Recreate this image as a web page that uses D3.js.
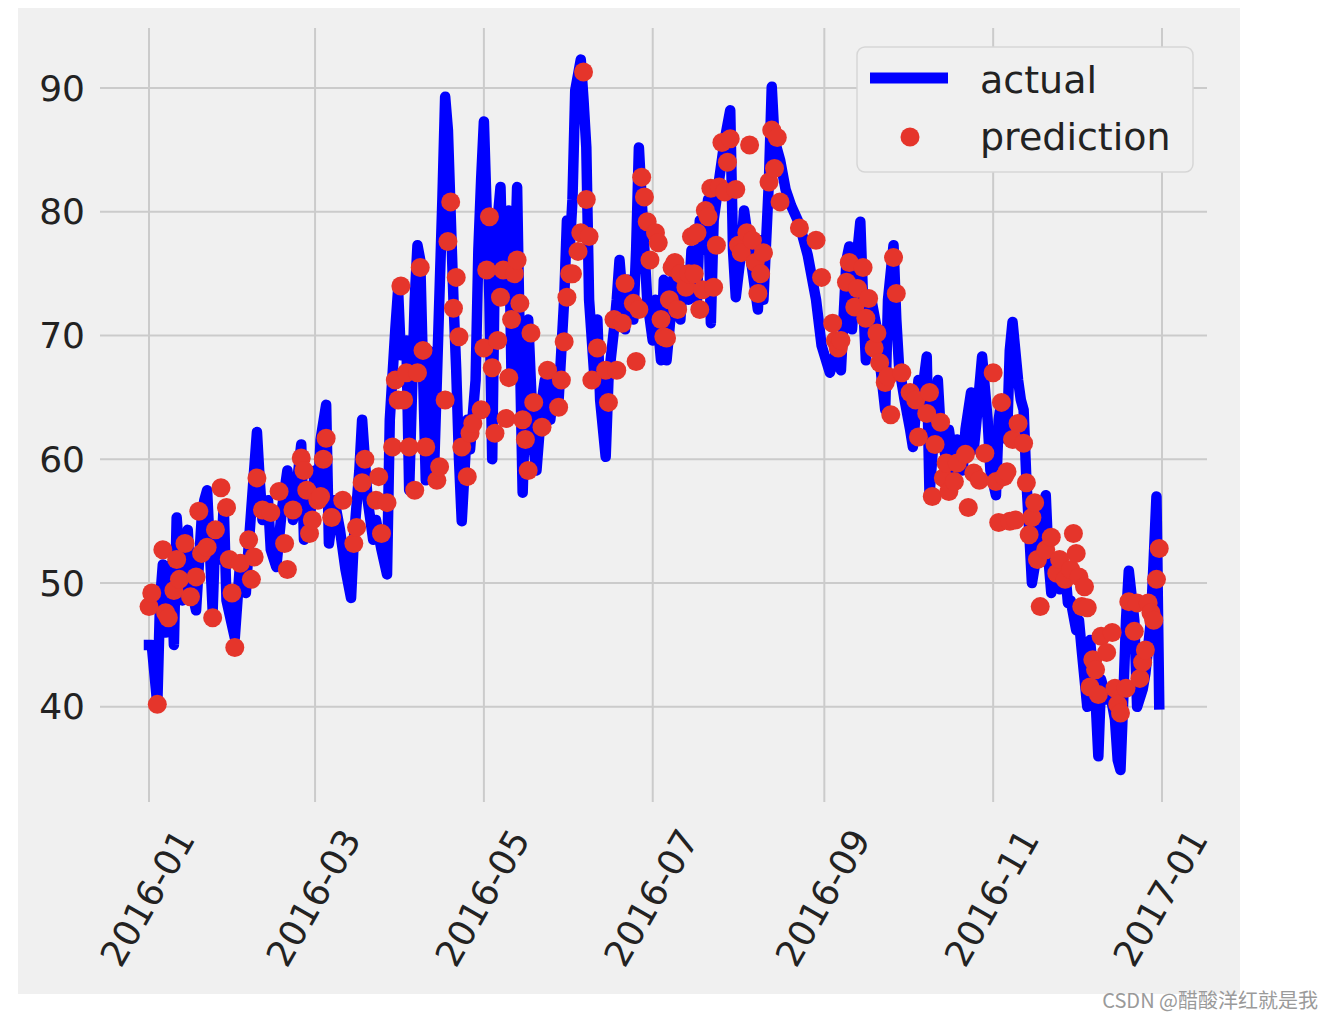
<!DOCTYPE html>
<html><head><meta charset="utf-8">
<script src="https://cdn.jsdelivr.net/npm/d3@7"></script>
<style>body{margin:0;background:#fff;} svg{display:block;}</style>
</head><body>
<svg id="chart" width="1334" height="1018"></svg>
<script>
// ---- data (day offset from 2016-01-01, temperature) ----
const actualDays = [0,1,3,4,5,6,8,9,10,12,14,15,17,19,20,21,23,24,26,27,28,31,33,35,36,39,40,41,43,44,46,48,50,52,55,56,58,60,61,62,64,65,67,69,71,73,74,76,77,79,81,82,84,86,87,89,90,91,93,94,96,97,98,100,101,103,104,106,107,108,110,111,112,113,115,116,118,119,120,121,123,124,125,127,128,130,131,133,134,135,136,137,139,140,142,143,145,147,148,150,151,152,153,154,156,157,158,159,161,162,163,165,166,168,169,170,172,173,175,176,177,178,180,182,183,185,186,187,189,190,192,193,195,196,198,199,200,202,203,204,206,208,210,211,212,214,215,216,218,220,221,222,224,225,226,228,230,232,235,238,241,243,246,248,250,252,253,254,256,257,258,259,261,263,264,266,267,269,270,271,273,275,276,278,279,281,282,284,285,286,288,289,291,292,294,295,297,298,299,301,303,304,306,307,308,310,311,312,314,315,316,317,318,319,321,322,324,325,326,328,329,331,332,333,335,336,337,339,340,342,343,344,346,347,349,350,351,352,353,354,356,357,359,360,362,363,364,365];
const actualTemps = [45,45,40.2,48.6,51.5,46,51.5,45,55.3,48.6,54.3,49.9,47.8,55.1,56.7,57.5,47.8,54.3,51.9,56.3,48.6,45.6,51.9,49.2,53,62.2,58.3,55.1,56.7,52.7,51.3,55.9,59.1,55.1,61.2,53.5,55.1,59.1,56.7,61.6,64.4,53.2,56.7,54.3,51.1,48.8,53.5,59.1,63.2,56.7,53.5,55.1,52.7,50.7,63.2,70.5,73.7,68.4,69.6,57.5,72.9,77.3,76.1,58.3,68.8,59.1,66.4,81,89.3,86.6,72.9,67.2,60,55,63.2,60.8,66.4,76.9,82.6,87.3,72.9,60,76.9,82,72.9,80.1,66.4,82,68.8,57.3,64.8,71.3,60.8,59.1,64.8,66.4,63.2,67.2,64.8,72.9,79.3,76.9,81,89.8,92.3,89,85.2,72.9,66.4,71.3,64.8,60.2,66.4,70.5,72.9,76.1,70.5,74.5,71.3,76.9,85.2,81,72.9,69.6,72.9,68,74.5,68,72.9,76.1,71.3,75.3,72.9,76.9,72.9,79.3,76.9,81,71,79.3,82.6,85.8,88.2,76.9,73.1,76.9,80.1,78.5,75.3,72.1,77.7,72.9,82.6,90.1,85.8,84.2,81.8,80.5,79,76.5,72.9,69.2,67,68.5,67.2,76.1,77.2,70.5,76.9,79.2,72.9,68,72.9,70.5,68,64,72.9,77.3,71.3,67.5,64.8,62.4,61,66.4,64.8,68.3,57.1,63.2,66.4,62.4,60,62.4,59.1,61.6,59.1,62.4,65.4,60.8,63.2,68.3,63.2,59.1,57.1,63.2,64.8,61.6,68.8,71.1,66.4,64.8,64,58.3,54.3,50,52.7,55.1,57.1,51.9,49.2,51.9,49.5,51.1,48.4,48.6,46.2,47,44.6,40,45.4,40.6,36,42.2,40.6,41.4,39,35.7,34.9,40.6,47,51,47,40,41.4,42.7,47,51.9,57,40.2];

const predDays = [0,1,3,5,6,7,9,10,11,13,15,17,18,19,21,23,24,26,28,29,30,31,33,36,37,38,39,41,44,47,49,50,52,55,56,57,58,59,61,62,63,64,66,70,74,75,77,78,82,83,84,86,88,89,90,91,92,93,94,96,97,98,99,100,104,105,107,108,109,110,111,112,113,115,116,117,120,121,122,123,124,125,126,127,128,129,130,131,132,133,134,135,136,137,138,139,142,144,148,149,150,151,152,153,155,156,157,158,159,160,162,165,166,168,169,171,172,175,176,177,178,179,180,181,183,184,185,186,187,188,189,190,191,192,194,195,196,197,198,199,200,201,202,203,204,205,206,207,208,209,210,212,213,214,216,217,218,219,220,221,222,224,225,226,227,228,235,241,243,247,248,249,250,252,253,255,256,258,259,260,262,263,264,266,267,268,269,270,272,275,277,278,281,282,283,284,286,287,288,289,291,292,295,296,298,300,302,305,306,307,308,309,310,311,312,313,314,316,317,318,319,320,321,322,324,326,328,329,331,333,334,335,336,337,338,339,340,341,342,343,344,346,348,349,350,351,353,354,356,357,358,359,360,361,362,363,364,365];
const predTemps = [48.1,49.2,40.2,52.7,47.6,47.2,49.4,51.9,50.3,53.2,48.9,50.5,55.8,52.4,52.9,47.2,54.3,57.7,56.1,51.9,49.2,44.8,51.6,53.5,50.3,52.1,58.5,55.9,55.7,57.4,53.2,51.1,55.9,60.1,59.1,57.5,54,55.1,56.7,57,60,61.7,55.3,56.7,53.2,54.5,58.1,60,56.7,58.6,54,56.5,61,66.4,64.8,74,64.8,67,61,57.5,67,75.5,68.8,61,58.3,59.4,64.8,77.6,80.8,72.2,74.7,69.9,61,58.6,62.1,62.9,64,69,75.3,79.6,67.4,62.1,69.6,73.1,75.3,63.3,66.6,71.3,75,76.1,72.6,63.2,61.6,59.1,70.2,64.6,62.6,67.2,64.2,66.4,69.5,73.1,75,75,76.8,78.3,91.3,81,78,66.4,69,67.2,64.6,71.3,67.2,71,74.2,72.6,67.9,72.1,82.8,81.2,79.2,76.1,78.3,77.5,71.3,69.9,69.8,72.9,75.5,75.9,72.1,75,73.9,75,78,75,78.3,72.1,73.7,80.1,79.6,81.9,73.9,77.3,82,85.6,81.6,84,85.9,81.8,77.3,76.7,78.3,85.4,77.7,75.9,73.4,75,76.7,82.4,86.6,83.5,86,80.8,78.7,77.7,74.7,71,69.6,69,69.6,74.3,75.9,72.3,73.8,75.5,71.4,73,69,70.2,67.8,66.2,66.7,63.6,76.3,73.4,67,65.4,64.8,61.8,63.7,65.4,57,61.2,63,58.5,59.7,57.4,58.2,59.7,60.4,56.1,58.9,58.3,60.5,67,58.2,54.9,64.6,58.6,59,55,61.6,55.1,62.9,61.3,58.1,53.9,55.3,56.5,51.9,48.1,52.7,53.7,50.8,51.9,50.3,51.1,54,52.4,50.5,48.1,49.7,48,41.6,43.8,43,41,45.7,44.4,46,41.5,40.2,39.5,41.5,48.5,46.1,48.4,42.3,43.6,44.6,48.4,47.6,47,50.3,52.8];

const xTickLabels = ["2016-01","2016-03","2016-05","2016-07","2016-09","2016-11","2017-01"];
const yTickValues = [40,50,60,70,80,90];
const seriesNames = ["actual","prediction"];

// ---- layout ----
const svg = d3.select("#chart");
const FONT = "DejaVu Sans, sans-serif";
const start = new Date(Date.UTC(2016,0,1));
const toDate = d => d3.utcDay.offset(start, d);

const axL = 100, axR = 1207, axT = 28, axB = 802;
const x = d3.scaleUtc().domain([start, new Date(Date.UTC(2017,0,1))]).range([149, 1162]);
const y = d3.scaleLinear().domain([32.15, 94.85]).range([804, 28]);

svg.append("rect").attr("x",18).attr("y",8).attr("width",1222).attr("height",986).attr("fill","#f0f0f0");

const parseM = d3.utcParse("%Y-%m");
const xTicks = xTickLabels.map(parseM);

// grid
const g = svg.append("g");
g.selectAll("line.h").data(yTickValues).join("line").attr("class","h")
  .attr("x1",axL).attr("x2",axR).attr("y1",d=>y(d)).attr("y2",d=>y(d))
  .attr("stroke","#cbcbcb").attr("stroke-width",2);
g.selectAll("line.v").data(xTicks).join("line").attr("class","v")
  .attr("x1",d=>x(d)).attr("x2",d=>x(d)).attr("y1",axT).attr("y2",axB)
  .attr("stroke","#cbcbcb").attr("stroke-width",2);

// y tick labels
svg.append("g").selectAll("text").data(yTickValues).join("text")
  .attr("x",85).attr("y",d=>y(d)).attr("text-anchor","end").attr("dominant-baseline","central")
  .attr("font-family",FONT).attr("font-size",36).attr("fill","#222").text(d=>d);

// x tick labels rotated
svg.append("g").selectAll("text").data(xTicks).join("text")
  .attr("transform",(d)=>`translate(${x(d)+47},839) rotate(-60)`)
  .attr("text-anchor","end")
  .attr("font-family",FONT).attr("font-size",36).attr("fill","#222")
  .text((d,i)=>xTickLabels[i]);

// actual line
const actual = actualDays.map((d,i)=>({date:toDate(d), v:actualTemps[i]}));
const line = d3.line().x(d=>x(d.date)).y(d=>y(d.v));
svg.append("path").datum(actual).attr("d",line)
  .attr("fill","none").attr("stroke","#0000ff").attr("stroke-width",10.5)
  .attr("stroke-linejoin","round").attr("stroke-linecap","square");

// predictions
const preds = predDays.map((d,i)=>({date:toDate(d), v:predTemps[i]}));
svg.append("g").selectAll("circle").data(preds).join("circle")
  .attr("cx",d=>x(d.date)).attr("cy",d=>y(d.v)).attr("r",9.5).attr("fill","#e5352b");

// legend
const lg = svg.append("g");
lg.append("rect").attr("x",857).attr("y",47).attr("width",336).attr("height",125).attr("rx",8)
  .attr("fill","#f0f0f0").attr("stroke","#d6d6d6").attr("stroke-width",1.5);
lg.append("line").attr("x1",870).attr("x2",948).attr("y1",78).attr("y2",78)
  .attr("stroke","#0000ff").attr("stroke-width",11);
lg.append("circle").attr("cx",910).attr("cy",137).attr("r",9.5).attr("fill","#e5352b");
lg.selectAll("text").data(seriesNames).join("text")
  .attr("x",980).attr("y",(d,i)=>80+i*57).attr("dominant-baseline","central")
  .attr("font-family",FONT).attr("font-size",38).attr("fill","#222").text(d=>d);

// watermark
svg.append("text").attr("x",1318).attr("y",999).attr("text-anchor","end").attr("dominant-baseline","central")
  .attr("font-family","Noto Sans CJK SC, sans-serif").attr("font-size",20).attr("fill","#9a9a9a")
  .text("CSDN @醋酸洋红就是我");
</script>
</body></html>
